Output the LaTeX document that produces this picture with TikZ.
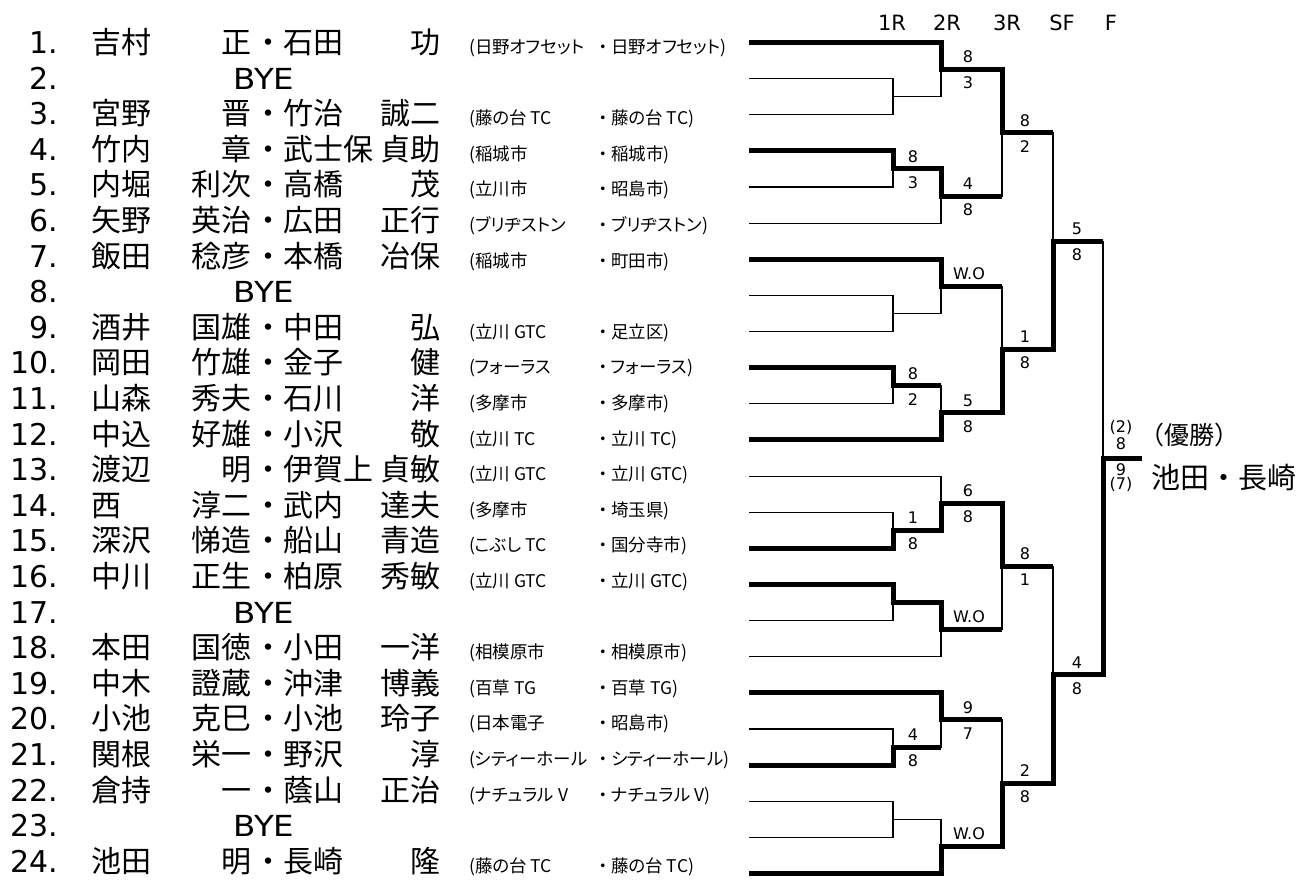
\documentclass[tikz,border=0pt]{standalone}
\usepackage{fontspec}
\setmainfont{Noto Sans CJK JP}
\newfontfamily\jp{Noto Sans CJK JP}
\newfontfamily\jpp[RawFeature=+palt]{Noto Sans CJK JP}
\newfontfamily\lat{DejaVu Sans}
\usetikzlibrary{calc}
\tikzset{
  thinl/.style={line width=1.1pt},
  win/.style={line width=5pt, line join=miter},
  num/.style={inner sep=0pt, anchor=base east, font=\lat\fontsize{30}{30}\selectfont},
  nm/.style={inner sep=0pt, font=\jp\fontsize{30}{30}\selectfont},
  bye/.style={inner sep=0pt, anchor=base, font=\lat\fontsize{29}{29}\selectfont},
  aff/.style={inner sep=0pt, anchor=base west, font=\jpp\fontsize{17.5}{17.5}\selectfont},
  affdot/.style={inner sep=0pt, anchor=base, font=\jp\fontsize{17.5}{17.5}\selectfont},
  sc/.style={inner sep=0pt, font=\lat\fontsize{16}{16}\selectfont},
  hdr/.style={inner sep=0pt, anchor=base, font=\lat\fontsize{21}{21}\selectfont},
}
\newcommand{\plrow}[8]{%
  \node[num] (n#1) at (58,{53.5+(#1-1)*35.6}) {#2};
  \node[nm, anchor=base west] (f#1) at (91,{53.5+(#1-1)*35.6}) {#3};
  \node[nm, anchor=base east] (g#1) at (252,{53.5+(#1-1)*35.6}) {#4};
  \node[nm, anchor=base] (d#1) at (268,{53.5+(#1-1)*35.6}) {・};
  \node[nm, anchor=base west] (h#1) at (283,{53.5+(#1-1)*35.6}) {#5};
  \node[nm, anchor=base east] (k#1) at (441,{53.5+(#1-1)*35.6}) {#6};
  \node[aff] (a#1) at (469,{53.5+(#1-1)*35.6}) {(#7};
  \node[affdot] (ad#1) at (603,{53.5+(#1-1)*35.6}) {・};
  \node[aff] (b#1) at (611,{53.5+(#1-1)*35.6}) {#8)};
}
\newcommand{\byerow}[2]{%
  \node[num] (n#1) at (58,{53.5+(#1-1)*35.6}) {#2};
  \node[bye] (y#1) at (264,{53.5+(#1-1)*35.6}) {\scalebox{1.12}[1]{BYE}};
}
\newcommand{\scorepair}[4]{%
  \node[sc] (#1u) at ($(#1)+(#2,-12.5)$) {#3};
  \node[sc] (#1d) at ($(#1)+(#2,13.5)$) {#4};
}
\begin{document}
\begin{tikzpicture}[x=1pt,y=-1pt]
\useasboundingbox (0,0) rectangle (1308,879);

% header
\node[hdr] (hr1) at (892,30) {1R};
\node[hdr] (hr2) at (947,30) {2R};
\node[hdr] (hr3) at (1007,30) {3R};
\node[hdr] (hsf) at (1062,30) {SF};
\node[hdr] (hf) at (1111,30) {F};

% players
\plrow{1}{1.}{吉村}{正}{石田}{功}{日野オフセット}{日野オフセット}
\byerow{2}{2.}
\plrow{3}{3.}{宮野}{晋}{竹治}{誠二}{藤の台 TC}{藤の台 TC}
\plrow{4}{4.}{竹内}{章}{武士保}{貞助}{稲城市}{稲城市}
\plrow{5}{5.}{内堀}{利次}{高橋}{茂}{立川市}{昭島市}
\plrow{6}{6.}{矢野}{英治}{広田}{正行}{ブリヂストン}{ブリヂストン}
\plrow{7}{7.}{飯田}{稔彦}{本橋}{冶保}{稲城市}{町田市}
\byerow{8}{8.}
\plrow{9}{9.}{酒井}{国雄}{中田}{弘}{立川 GTC}{足立区}
\plrow{10}{10.}{岡田}{竹雄}{金子}{健}{フォーラス}{フォーラス}
\plrow{11}{11.}{山森}{秀夫}{石川}{洋}{多摩市}{多摩市}
\plrow{12}{12.}{中込}{好雄}{小沢}{敬}{立川 TC}{立川 TC}
\plrow{13}{13.}{渡辺}{明}{伊賀上}{貞敏}{立川 GTC}{立川 GTC}
\plrow{14}{14.}{西}{淳二}{武内}{達夫}{多摩市}{埼玉県}
\plrow{15}{15.}{深沢}{悌造}{船山}{青造}{こぶし TC}{国分寺市}
\plrow{16}{16.}{中川}{正生}{柏原}{秀敏}{立川 GTC}{立川 GTC}
\byerow{17}{17.}
\plrow{18}{18.}{本田}{国徳}{小田}{一洋}{相模原市}{相模原市}
\plrow{19}{19.}{中木}{證蔵}{沖津}{博義}{百草 TG}{百草 TG}
\plrow{20}{20.}{小池}{克巳}{小池}{玲子}{日本電子}{昭島市}
\plrow{21}{21.}{関根}{栄一}{野沢}{淳}{シティーホール}{シティーホール}
\plrow{22}{22.}{倉持}{一}{蔭山}{正治}{ナチュラル V}{ナチュラル V}
\byerow{23}{23.}
\plrow{24}{24.}{池田}{明}{長崎}{隆}{藤の台 TC}{藤の台 TC}

% bracket coordinates
\foreach \i in {1,...,24} \coordinate (e\i) at (749,{42.5+(\i-1)*36.13});
\coordinate (m1a) at (893,96.7);
\coordinate (m1b) at (893,168.96);
\coordinate (m1c) at (893,313.48);
\coordinate (m1d) at (893,385.74);
\coordinate (m1e) at (893,530.26);
\coordinate (m1f) at (893,602.52);
\coordinate (m1g) at (893,747.04);
\coordinate (m1h) at (893,819.3);
\coordinate (m2a) at (941,69.6);
\coordinate (m2b) at (941,196.06);
\coordinate (m2c) at (941,286.38);
\coordinate (m2d) at (941,412.84);
\coordinate (m2e) at (941,503.16);
\coordinate (m2f) at (941,629.62);
\coordinate (m2g) at (941,719.94);
\coordinate (m2h) at (941,846.4);
\coordinate (m3a) at (1002,132.83);
\coordinate (m3b) at (1002,349.61);
\coordinate (m3c) at (1002,566.39);
\coordinate (m3d) at (1002,783.17);
\coordinate (m4a) at (1053,241.22);
\coordinate (m4b) at (1053,674.78);
\coordinate (m5) at (1103,458);
\coordinate (champ) at (1142,458);

% thin bracket
\draw[thinl] (e2) -| (m1a) |- (e3);
\draw[thinl] (e4) -| (m1b) |- (e5);
\draw[thinl] (e8) -| (m1c) |- (e9);
\draw[thinl] (e10) -| (m1d) |- (e11);
\draw[thinl] (e14) -| (m1e) |- (e15);
\draw[thinl] (e16) -| (m1f) |- (e17);
\draw[thinl] (e20) -| (m1g) |- (e21);
\draw[thinl] (e22) -| (m1h) |- (e23);
\draw[thinl] (e1) -| (m2a) |- (m1a);
\draw[thinl] (m1b) -| (m2b) |- (e6);
\draw[thinl] (e7) -| (m2c) |- (m1c);
\draw[thinl] (m1d) -| (m2d) |- (e12);
\draw[thinl] (e13) -| (m2e) |- (m1e);
\draw[thinl] (m1f) -| (m2f) |- (e18);
\draw[thinl] (e19) -| (m2g) |- (m1g);
\draw[thinl] (m1h) -| (m2h) |- (e24);
\draw[thinl] (m2a) -| (m3a) |- (m2b);
\draw[thinl] (m2c) -| (m3b) |- (m2d);
\draw[thinl] (m2e) -| (m3c) |- (m2f);
\draw[thinl] (m2g) -| (m3d) |- (m2h);
\draw[thinl] (m3a) -| (m4a) |- (m3b);
\draw[thinl] (m3c) -| (m4b) |- (m3d);
\draw[thinl] (m4a) -| (m5) |- (m4b);

% winners
\draw[win] (e1) -| (m2a) -| (m3a) -- (m3a -| m4a);
\draw[win] (e4) -| (m1b) -| (m2b) -- (m2b -| m3a);
\draw[win] (e7) -| (m2c) -- (m2c -| m3b);
\draw[win] (e10) -| (m1d) -- (m1d -| m2d);
\draw[win] (e12) -| (m2d) -| (m3b) -| (m4a) -- (m4a -| m5);
\draw[win] (e15) -| (m1e) -| (m2e) -| (m3c) -- (m3c -| m4b);
\draw[win] (e16) -| (m1f) -| (m2f) -- (m2f -| m3c);
\draw[win] (e19) -| (m2g) -- (m2g -| m3d);
\draw[win] (e21) -| (m1g) -- (m1g -| m2g);
\draw[win] (e24) -| (m2h) -| (m3d) -| (m4b) -| (m5) -- (champ);

% scores
\scorepair{m1b}{20}{8}{3}
\scorepair{m1d}{20}{8}{2}
\scorepair{m1e}{20}{1}{8}
\scorepair{m1g}{20}{4}{8}
\scorepair{m2a}{27}{8}{3}
\scorepair{m2b}{27}{4}{8}
\scorepair{m2d}{27}{5}{8}
\scorepair{m2e}{27}{6}{8}
\scorepair{m2g}{27}{9}{7}
\node[sc] (m2cw) at ($(m2c)+(28,-13)$) {W.O};
\node[sc] (m2fw) at ($(m2f)+(28,-13)$) {W.O};
\node[sc] (m2hw) at ($(m2h)+(28,-13)$) {W.O};
\scorepair{m3a}{23}{8}{2}
\scorepair{m3b}{23}{1}{8}
\scorepair{m3c}{23}{8}{1}
\scorepair{m3d}{23}{2}{8}
\scorepair{m4a}{24}{5}{8}
\scorepair{m4b}{24}{4}{8}
\node[sc] (f2) at ($(m5)+(18,-31)$) {(2)};
\node[sc] (f8) at ($(m5)+(18,-14)$) {8};
\node[sc] (f9) at ($(m5)+(18,11.5)$) {9};
\node[sc] (f7) at ($(m5)+(18,26)$) {(7)};

% champion
\node[inner sep=0pt, font=\jp\fontsize{25}{25}\selectfont] (yusho) at (1189,435) {（優勝）};
\node[inner sep=0pt, font=\jp\fontsize{29}{29}\selectfont] (cname) at (1224,478) {池田・長崎};
\end{tikzpicture}
\end{document}
